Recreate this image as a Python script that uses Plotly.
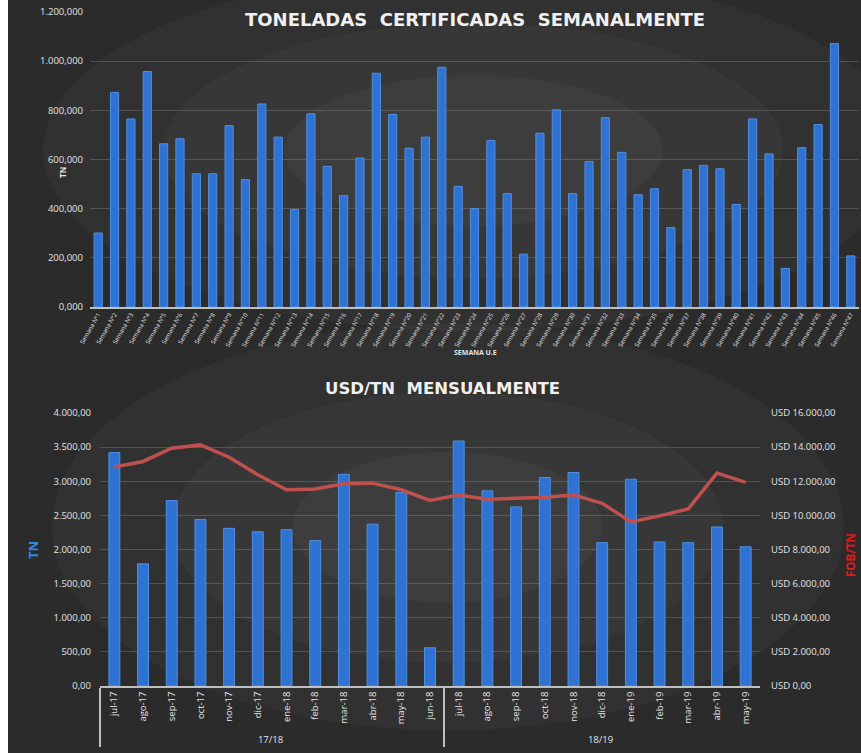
import plotly.graph_objects as go

# ---------------- data ----------------
semanas = [f"Semana N°{i}" for i in range(1, 48)]
toneladas = [301, 873, 765, 958, 664, 684, 542, 542, 738, 518, 826, 691, 397, 786, 572, 453,
             606, 951, 783, 646, 691, 975, 491, 400, 677, 461, 215, 707, 802, 461, 592, 770,
             629, 457, 481, 323, 559, 576, 562, 417, 765, 623, 157, 648, 742, 1072, 208]

temporadas = ["17/18"] * 12 + ["18/19"] * 11
meses = ["jul-17", "ago-17", "sep-17", "oct-17", "nov-17", "dic-17", "ene-18", "feb-18",
         "mar-18", "abr-18", "may-18", "jun-18",
         "jul-18", "ago-18", "sep-18", "oct-18", "nov-18", "dic-18", "ene-19", "feb-19",
         "mar-19", "abr-19", "may-19"]
tn_mes = [3420, 1790, 2717, 2440, 2310, 2260, 2290, 2130, 3100, 2370, 2834, 560,
          3590, 2859, 2624, 3054, 3128, 2100, 3030, 2110, 2100, 2330, 2040]
fob_tn = [12830, 13160, 13940, 14130, 13410, 12380, 11500, 11550, 11850, 11890, 11500, 10880,
          11200, 10950, 11000, 11060, 11200, 10710, 9620, 9970, 10380, 12480, 11930]

# ---------------- styling ----------------
W, H = 861, 753
BG = "#2b2b2b"
TXT = "#e4e4e4"
GRID = "rgba(200,200,200,0.22)"
BAR = "#2f72d2"
BAR_LINE = "#4d90e4"
FONT = "Open Sans"
TFONT = "DejaVu Sans"


def px(x):
    return x / W


def py(y):
    return 1 - y / H


fig = go.Figure()

fig.add_trace(go.Bar(x=semanas, y=toneladas, xaxis="x", yaxis="y",
                     marker=dict(color=BAR, line=dict(color=BAR_LINE, width=1)),
                     width=0.5, showlegend=False))

fig.add_trace(go.Bar(x=[temporadas, meses], y=tn_mes, xaxis="x2", yaxis="y2",
                     marker=dict(color=BAR, line=dict(color=BAR_LINE, width=1)),
                     width=0.38, showlegend=False))

fig.add_trace(go.Scatter(x=[temporadas, meses], y=fob_tn, xaxis="x2", yaxis="y3",
                         mode="lines", line=dict(color="#c0504d", width=3.5),
                         showlegend=False))

# subtle radial-ish lighting
shapes = []
for (cx, cy, rx, ry) in [(0.55, 0.80, 0.50, 0.24), (0.55, 0.80, 0.36, 0.17), (0.55, 0.80, 0.22, 0.10),
                         (0.52, 0.30, 0.46, 0.27), (0.52, 0.30, 0.32, 0.18), (0.52, 0.30, 0.18, 0.10)]:
    shapes.append(dict(type="circle", xref="paper", yref="paper",
                       x0=cx - rx, x1=cx + rx, y0=cy - ry, y1=cy + ry,
                       fillcolor="rgba(255,255,255,0.03)", line=dict(width=0), layer="below"))
shapes.append(dict(type="rect", xref="paper", yref="paper", x0=0, x1=px(8), y0=0, y1=1,
                   fillcolor="white", line=dict(width=0), layer="above"))

annotations = [
    dict(text="TONELADAS  CERTIFICADAS  SEMANALMENTE", x=px(475), y=py(20), xref="paper", yref="paper",
         xanchor="center", yanchor="middle", showarrow=False,
         font=dict(family=TFONT, size=18, color="#f0f0f0", weight="bold")),
    dict(text="USD/TN  MENSUALMENTE", x=px(442), y=py(388), xref="paper", yref="paper",
         xanchor="center", yanchor="middle", showarrow=False,
         font=dict(family=TFONT, size=16.5, color="#f0f0f0", weight="bold")),
    dict(text="SEMANA U.E", x=px(475), y=py(352), xref="paper", yref="paper",
         xanchor="center", yanchor="middle", showarrow=False,
         font=dict(family=FONT, size=7, color=TXT, weight="bold")),
    dict(text="TN", x=px(62), y=py(173), xref="paper", yref="paper", textangle=-90,
         xanchor="center", yanchor="middle", showarrow=False,
         font=dict(family=FONT, size=8, color=TXT, weight="bold")),
    dict(text="TN", x=px(33), y=py(550), xref="paper", yref="paper", textangle=-90,
         xanchor="center", yanchor="middle", showarrow=False,
         font=dict(family=FONT, size=13, color="#2e8ae6", weight="bold")),
    dict(text="FOB/TN", x=px(850), y=py(555), xref="paper", yref="paper", textangle=-90,
         xanchor="center", yanchor="middle", showarrow=False,
         font=dict(family=FONT, size=11.5, color="#e01818", weight="bold")),
]

fig.update_layout(
    width=W, height=H,
    margin=dict(l=0, r=0, t=0, b=0, autoexpand=False),
    paper_bgcolor=BG, plot_bgcolor="rgba(0,0,0,0)",
    separators=",.",
    font=dict(family=FONT, color=TXT, size=8),
    shapes=shapes,
    annotations=annotations,
    xaxis=dict(domain=[px(90), px(859)], anchor="y", showgrid=False, showline=True,
               linecolor="#bfbfbf", linewidth=1.5, ticks="", automargin=False,
               tickangle=-60, tickfont=dict(size=6, color=TXT)),
    yaxis=dict(domain=[py(307), py(12)], anchor="x", range=[0, 1200], dtick=200,
               tickformat=",.3f", showgrid=True, gridcolor=GRID, gridwidth=1, automargin=False,
               zeroline=False, tickfont=dict(size=9.5, color=TXT), ticks="", ticklabelstandoff=6),
    xaxis2=dict(domain=[px(100), px(760)], anchor="y2", type="multicategory", automargin=False,
                showgrid=False, showline=True, linecolor="#bfbfbf", linewidth=1.5,
                showdividers=True, dividercolor="#bfbfbf", dividerwidth=1.5,
                tickangle=-90, tickfont=dict(size=9.5, color=TXT), ticks=""),
    yaxis2=dict(domain=[py(686), py(413)], anchor="x2", range=[0, 4000], dtick=500,
                tickformat=",.2f", showgrid=True, gridcolor=GRID, zeroline=False, automargin=False,
                tickfont=dict(size=9.5, color=TXT), ticks="", ticklabelstandoff=8),
    yaxis3=dict(overlaying="y2", anchor="x2", side="right", range=[0, 16000], dtick=2000,
                tickformat=",.2f", tickprefix="USD ", showgrid=False, zeroline=False, automargin=False,
                tickfont=dict(size=9.5, color=TXT), ticks="", ticklabelstandoff=10),
)

fig.write_html("out.html", config={"displayModeBar": False},
               post_script="document.body.style.margin='0';")
